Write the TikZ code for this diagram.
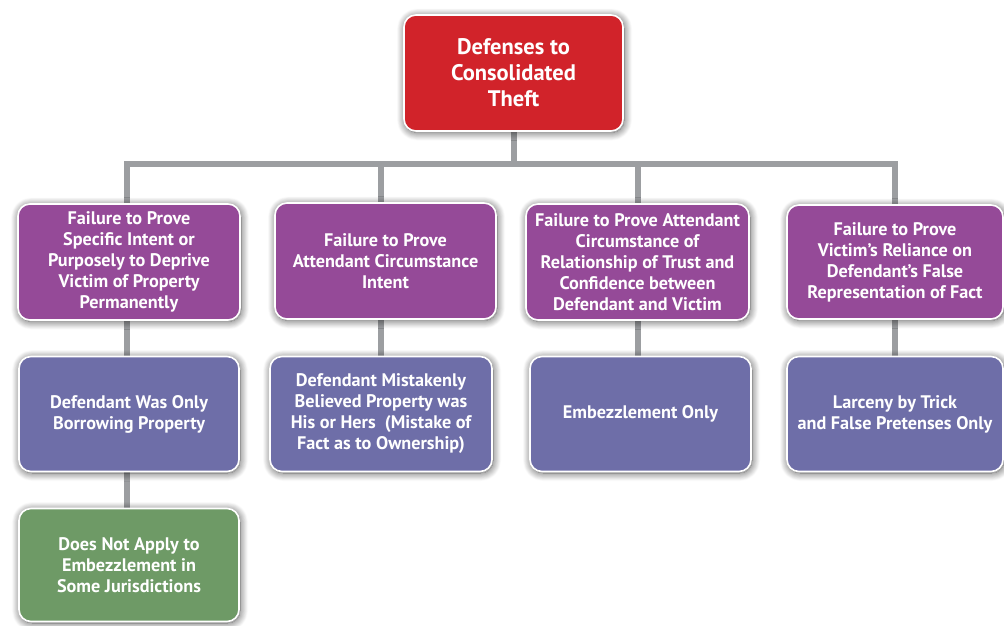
\documentclass[tikz,border=0pt]{standalone}
\usepackage{fontspec}
\setmainfont{PT Sans}
\usetikzlibrary{shadows.blur,backgrounds}
\definecolor{rootred}{HTML}{D1232A}
\definecolor{lvpurple}{HTML}{954A98}
\definecolor{lvblue}{HTML}{6E6EA8}
\definecolor{lvgreen}{HTML}{6E9A66}
\definecolor{connect}{HTML}{9C9EA1}
\tikzset{
  box/.style={rounded corners=12pt, draw=white, line width=1.6pt, text=white,
    font=\fontsize{18.2}{21}\selectfont\bfseries, align=center, inner sep=0pt,
    blur shadow={shadow xshift=1pt, shadow yshift=-1.5pt, shadow blur radius=8pt, shadow opacity=70, shadow blur steps=12}},
  rootbox/.style={box, fill=rootred, font=\fontsize{22.5}{26}\selectfont\bfseries},
  purplebox/.style={box, fill=lvpurple},
  bluebox/.style={box, fill=lvblue},
  greenbox/.style={box, fill=lvgreen},
  conn/.style={draw=connect, line width=6pt}
}
\begin{document}
\begin{tikzpicture}[x=1pt,y=-1pt]
\useasboundingbox (0,0) rectangle (1004,625);
\node[rootbox, minimum width=219pt, minimum height=116pt] (root) at (513.5,73) {Defenses to\\Consolidated\\Theft};
\node[purplebox, minimum width=222pt, minimum height=116pt] (l1a) at (129,262) {Failure to Prove\\Specific Intent or\\Purposely to Deprive\\Victim of Property\\Permanently};
\node[purplebox, minimum width=221pt, minimum height=116pt] (l1b) at (385.5,261) {Failure to Prove\\Attendant Circumstance\\Intent};
\node[purplebox, minimum width=223pt, minimum height=116pt] (l1c) at (637.5,262) {Failure to Prove Attendant\\Circumstance of\\Relationship of Trust and\\Confidence between\\Defendant and Victim};
\node[purplebox, minimum width=216pt, minimum height=114pt] (l1d) at (895,262) {Failure to Prove\\Victim’s Reliance on\\Defendant’s False\\Representation of Fact};
\node[bluebox, minimum width=220pt, minimum height=115pt] (l2a) at (129,414) {Defendant Was Only\\Borrowing Property};
\node[bluebox, minimum width=222pt, minimum height=115pt] (l2b) at (381,414) {Defendant Mistakenly\\Believed Property was\\His or Hers\enspace(Mistake of\\Fact as to Ownership)};
\node[bluebox, minimum width=221pt, minimum height=115pt] (l2c) at (640.5,414) {Embezzlement Only};
\node[bluebox, minimum width=216pt, minimum height=115pt] (l2d) at (895,414) {Larceny by Trick\\and False Pretenses Only};
\node[greenbox, minimum width=220pt, minimum height=113pt] (l3) at (129,565) {Does Not Apply to\\Embezzlement in\\Some Jurisdictions};
\coordinate (s1) at (127,164);
\coordinate (s2) at (381,164);
\coordinate (s3) at (638,164);
\coordinate (s4) at (895,164);
\coordinate (sr) at (514,164);
\begin{scope}[on background layer]
\draw[conn] (root.south -| sr) -- (sr);
\draw[conn, line cap=rect] (s1) -- (s4);
\draw[conn] (s1) -- (s1 |- l1a.north);
\draw[conn] (s2) -- (s2 |- l1b.north);
\draw[conn] (s3) -- (s3 |- l1c.north);
\draw[conn] (s4) -- (s4 |- l1d.north);
\draw[conn] (l1a.south -| s1) -- (l2a.north -| s1);
\draw[conn] (l1b.south -| s2) -- (l2b.north -| s2);
\draw[conn] (l1c.south -| s3) -- (l2c.north -| s3);
\draw[conn] (l1d.south -| s4) -- (l2d.north -| s4);
\draw[conn] (l2a.south -| s1) -- (l3.north -| s1);
\end{scope}
\end{tikzpicture}
\end{document}
